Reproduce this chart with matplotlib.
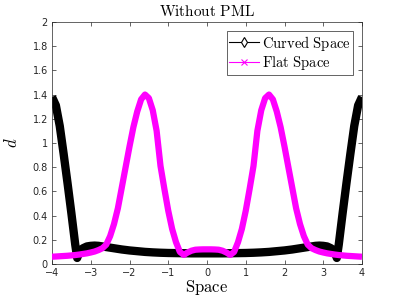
import numpy as np
import matplotlib
matplotlib.use("Agg")
import matplotlib.pyplot as plt
from matplotlib.lines import Line2D

plt.rcParams['mathtext.fontset'] = 'cm'

# Flat Space, x from -4 to 4 step 0.1
flat_x = [round(-4 + 0.1 * i, 1) for i in range(81)]
flat_y = [0.060, 0.062, 0.064, 0.066, 0.068, 0.071, 0.074, 0.078, 0.083, 0.088,
          0.095, 0.103, 0.115, 0.130, 0.160, 0.230, 0.330, 0.460, 0.630, 0.800,
          0.970, 1.130, 1.260, 1.360, 1.400, 1.370, 1.270, 1.100, 0.810, 0.620,
          0.440, 0.290, 0.180, 0.100, 0.075, 0.095, 0.110, 0.118, 0.120, 0.121,
          0.121,
          0.121, 0.120, 0.118, 0.110, 0.095, 0.075, 0.100, 0.180, 0.290, 0.440,
          0.620, 0.810, 1.100, 1.270, 1.370, 1.400, 1.360, 1.260, 1.130, 0.970,
          0.800, 0.630, 0.460, 0.330, 0.230, 0.160, 0.130, 0.115, 0.103, 0.095,
          0.088, 0.083, 0.078, 0.074, 0.071, 0.068, 0.066, 0.064, 0.062, 0.060]

# Curved Space
curved_x = [-4.0, -3.9, -3.8, -3.7, -3.6, -3.5, -3.4, -3.35, -3.3, -3.2,
            -3.1, -3.0, -2.9, -2.8, -2.7, -2.6, -2.5, -2.4, -2.3, -2.2,
            -2.1, -2.0, -1.8, -1.6, -1.4, -1.2, -1.0, -0.8, -0.6, -0.4,
            -0.2, 0.0, 0.2, 0.4, 0.6, 0.8, 1.0, 1.2, 1.4, 1.6,
            1.8, 2.0, 2.1, 2.2, 2.3, 2.4, 2.5, 2.6, 2.7, 2.8,
            2.9, 3.0, 3.1, 3.2, 3.3, 3.35, 3.4, 3.5, 3.6, 3.7,
            3.8, 3.9, 4.0]
curved_y = [1.38, 1.31, 1.14, 0.91, 0.67, 0.42, 0.16, 0.05, 0.10, 0.13,
            0.145, 0.150, 0.152, 0.150, 0.145, 0.140, 0.135, 0.130, 0.125, 0.120,
            0.116, 0.112, 0.106, 0.100, 0.096, 0.093, 0.091, 0.090, 0.089, 0.088,
            0.088, 0.088, 0.088, 0.088, 0.089, 0.090, 0.091, 0.093, 0.096, 0.100,
            0.106, 0.112, 0.116, 0.120, 0.125, 0.130, 0.135, 0.140, 0.145, 0.150,
            0.152, 0.150, 0.145, 0.13, 0.10, 0.05, 0.16, 0.42, 0.67, 0.91,
            1.14, 1.31, 1.38]

xticks = [-4, -3, -2, -1, 0, 1, 2, 3, 4]
yticks = [0, 0.2, 0.4, 0.6, 0.8, 1.0, 1.2, 1.4, 1.6, 1.8, 2.0]
ytick_labels = ['0', '0.2', '0.4', '0.6', '0.8', '1', '1.2', '1.4', '1.6', '1.8', '2']

fig = plt.figure(figsize=(4, 3), dpi=100)
ax = fig.add_axes([0.13, 0.12, 0.775, 0.807])

ax.plot(curved_x, curved_y, color='black', lw=6, solid_joinstyle='round',
        solid_capstyle='butt', zorder=2)
ax.plot(flat_x, flat_y, color='magenta', lw=4.5, solid_joinstyle='round',
        solid_capstyle='butt', zorder=3)

ax.set_xlim(-4, 4)
ax.set_ylim(0, 2)
ax.set_xticks(xticks)
ax.set_yticks(yticks)
ax.set_yticklabels(ytick_labels)
ax.tick_params(direction='in', top=True, right=True, labelsize=7, colors='#262626',
               length=3, width=0.5, pad=3)
for s in ax.spines.values():
    s.set_color('#262626')
    s.set_linewidth(0.5)

ax.set_title(r'$\mathrm{Without\ PML}$', fontsize=11, pad=4)
ax.set_xlabel(r'$\mathrm{Space}$', fontsize=12, labelpad=0)
ax.set_ylabel(r'$d$', fontsize=12, labelpad=8)

handles = [Line2D([], [], color='black', lw=0.8, marker='d', ms=5, mfc='white', mew=0.8),
           Line2D([], [], color='magenta', lw=0.8, marker='x', ms=4, mew=0.8)]
leg = ax.legend(handles, [r'$\mathrm{Curved\ Space}$', r'$\mathrm{Flat\ Space}$'],
                loc='upper right', fontsize=10.5, fancybox=False, framealpha=1,
                edgecolor='#262626', handlelength=2.0, handletextpad=0.2,
                borderpad=0.2, labelspacing=0.1, borderaxespad=0.6)
leg.get_frame().set_linewidth(0.5)

fig.savefig('out.png', dpi=100)
